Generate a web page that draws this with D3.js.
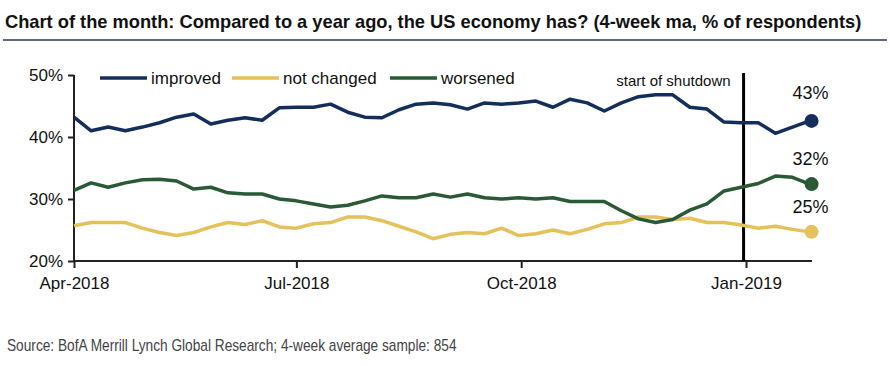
<!DOCTYPE html>
<html>
<head>
<meta charset="utf-8">
<script src="https://cdn.jsdelivr.net/npm/d3@7"></script>
<style>
  body { margin: 0; background: #fff; }
  svg { display: block; }
</style>
</head>
<body>
<div id="chart"></div>
<script>
const width = 890,
    height = 366

// weekly observations, 4-week moving average, % of respondents
const startWeek = '2018-04-01'
const improved = [43.2, 41.0, 41.6, 41.0, 41.6, 42.3, 43.2, 43.7, 42.1, 42.7,
  43.1, 42.7, 44.7, 44.8, 44.8, 45.3, 44.0, 43.2, 43.1, 44.4,
  45.3, 45.5, 45.2, 44.5, 45.5, 45.3, 45.5, 45.8, 44.8, 46.1,
  45.5, 44.2, 45.5, 46.5, 46.8, 46.8, 44.8, 44.5, 42.4, 42.3,
  42.3, 40.6, 41.6, 42.6]
const notChanged = [25.7, 26.2, 26.2, 26.2, 25.3, 24.6, 24.1, 24.6, 25.5, 26.2,
  25.9, 26.5, 25.5, 25.3, 26.0, 26.2, 27.1, 27.1, 26.5, 25.6,
  24.7, 23.6, 24.3, 24.6, 24.4, 25.3, 24.1, 24.4, 25.0, 24.4,
  25.1, 26.0, 26.2, 27.1, 27.1, 26.7, 26.9, 26.2, 26.2, 25.8,
  25.3, 25.6, 25.1, 24.7]
const worsened = [31.4, 32.6, 31.9, 32.6, 33.1, 33.2, 32.9, 31.6, 31.9, 31.0,
  30.8, 30.8, 30.0, 29.7, 29.2, 28.7, 29.0, 29.7, 30.5, 30.2,
  30.2, 30.8, 30.3, 30.8, 30.2, 30.0, 30.2, 30.0, 30.2, 29.6,
  29.6, 29.6, 28.1, 26.8, 26.2, 26.7, 28.2, 29.2, 31.3, 31.9,
  32.5, 33.7, 33.5, 32.4]
const seriesNames = ['improved', 'not changed', 'worsened']
const seriesColors = ['#142e5c', '#e4c15a', '#2a5a35']
const endLabels = ['43%', '25%', '32%']
const yTicks = [20, 30, 40, 50]
const xTicks = ['2018-04-01', '2018-07-01', '2018-10-01', '2019-01-01']
const shutdownDate = '2018-12-31'

const parse = d3.utcParse('%Y-%m-%d')
const weeks = improved.map((d, i) => d3.utcDay.offset(parse(startWeek), i * 7))
const series = [improved, notChanged, worsened].map((vals, i) => ({
  name: seriesNames[i],
  color: seriesColors[i],
  label: endLabels[i],
  values: vals.map((v, j) => ({ date: weeks[j], value: v }))
}))

const svg = d3.select('#chart')
  .append('svg')
    .attr('width', width)
    .attr('height', height)
    .style('font-family', 'Liberation Sans, Arial, sans-serif')

// squeeze a text horizontally so it spans the given width (narrow-font look)
function fitText(sel, x0, w) {
  const natural = sel.node().getComputedTextLength()
  const k = Math.min(1, w / natural)
  sel.attr('x', 0).attr('transform', `translate(${x0},0) scale(${k},1)`)
}

// title + rule
const title = svg.append('text')
  .attr('y', 28)
  .style('font-weight', 'bold')
  .style('font-size', '19px')
  .style('fill', '#111')
  .text('Chart of the month: Compared to a year ago, the US economy has? (4-week ma, % of respondents)')
fitText(title, 5, 857)

svg.append('line')
  .attr('x1', 3).attr('x2', 887)
  .attr('y1', 40).attr('y2', 40)
  .attr('stroke', '#5d6b78')
  .attr('stroke-width', 2)

const x = d3.scaleUtc()
  .domain([parse('2018-04-01'), parse('2019-01-28')])
  .range([74, 812])

const y = d3.scaleLinear()
  .domain([20, 50])
  .range([261, 75])

// y axis
const yAxis = svg.append('g')
  .attr('transform', 'translate(74,0)')
  .call(d3.axisLeft(y).tickValues(yTicks).tickSize(6).tickPadding(5)
    .tickFormat(d => d + '%'))
yAxis.select('.domain').attr('stroke', '#222').attr('stroke-width', 2)
  .attr('d', `M0,${y(50)}V${y(20)}`)
yAxis.selectAll('.tick line').attr('stroke', '#222').attr('stroke-width', 2)
yAxis.selectAll('.tick text')
  .style('font-size', '17px')
  .style('font-family', 'Liberation Sans, Arial, sans-serif')
  .attr('fill', '#111')
  .attr('dy', '0.35em')

// x axis
const xAxis = svg.append('g')
  .attr('transform', `translate(0,${y(20)})`)
  .call(d3.axisBottom(x).tickValues(xTicks.map(parse)).tickSize(7).tickPadding(9)
    .tickFormat(d3.utcFormat('%b-%Y')))
xAxis.select('.domain').attr('stroke', '#222').attr('stroke-width', 2)
  .attr('d', `M${x.range()[0]},0H${x.range()[1]}`)
xAxis.selectAll('.tick line').attr('stroke', '#222').attr('stroke-width', 2)
xAxis.selectAll('.tick text')
  .style('font-size', '17px')
  .style('font-family', 'Liberation Sans, Arial, sans-serif')
  .attr('fill', '#111')

// shutdown marker
svg.append('line')
  .attr('x1', x(parse(shutdownDate))).attr('x2', x(parse(shutdownDate)))
  .attr('y1', 73).attr('y2', y(20))
  .attr('stroke', '#000')
  .attr('stroke-width', 3)

svg.append('text')
  .attr('x', x(parse(shutdownDate)) - 13)
  .attr('y', 86)
  .attr('text-anchor', 'end')
  .style('font-size', '15px')
  .style('fill', '#111')
  .text('start of shutdown')

// lines
const line = d3.line()
  .x(d => x(d.date))
  .y(d => y(d.value))

svg.selectAll('.series')
  .data(series)
  .join('path')
    .attr('class', 'series')
    .attr('d', d => line(d.values))
    .attr('fill', 'none')
    .attr('stroke', d => d.color)
    .attr('stroke-width', 3.5)
    .attr('stroke-linejoin', 'round')

// end dots + labels
svg.selectAll('.enddot')
  .data(series)
  .join('circle')
    .attr('class', 'enddot')
    .attr('cx', d => x(d.values[d.values.length - 1].date) + 2)
    .attr('cy', d => y(d.values[d.values.length - 1].value))
    .attr('r', 7)
    .attr('fill', d => d.color)

const labelOffset = { 'improved': -22, 'not changed': -19, 'worsened': -19 }
svg.selectAll('.endlabel')
  .data(series)
  .join('text')
    .attr('class', 'endlabel')
    .attr('x', d => x(d.values[d.values.length - 1].date) + 1)
    .attr('y', d => y(d.values[d.values.length - 1].value) + labelOffset[d.name])
    .attr('text-anchor', 'middle')
    .style('font-size', '18px')
    .style('fill', '#111')
    .text(d => d.label)

// legend
const legendX = [100, 232, 390]
const legend = svg.selectAll('.legend')
  .data(series)
  .join('g')
    .attr('class', 'legend')
    .attr('transform', (d, i) => `translate(${legendX[i]},78)`)
legend.append('line')
  .attr('x1', 0).attr('x2', 47)
  .attr('stroke', d => d.color)
  .attr('stroke-width', 3.5)
legend.append('text')
  .attr('x', 51)
  .attr('y', 6)
  .style('font-size', '17px')
  .style('fill', '#111')
  .text(d => d.name)

// source
const source = svg.append('text')
  .attr('y', 351)
  .style('font-size', '16px')
  .style('fill', '#444')
  .text('Source: BofA Merrill Lynch Global Research; 4-week average sample: 854')
fitText(source, 7, 450)
</script>
</body>
</html>
